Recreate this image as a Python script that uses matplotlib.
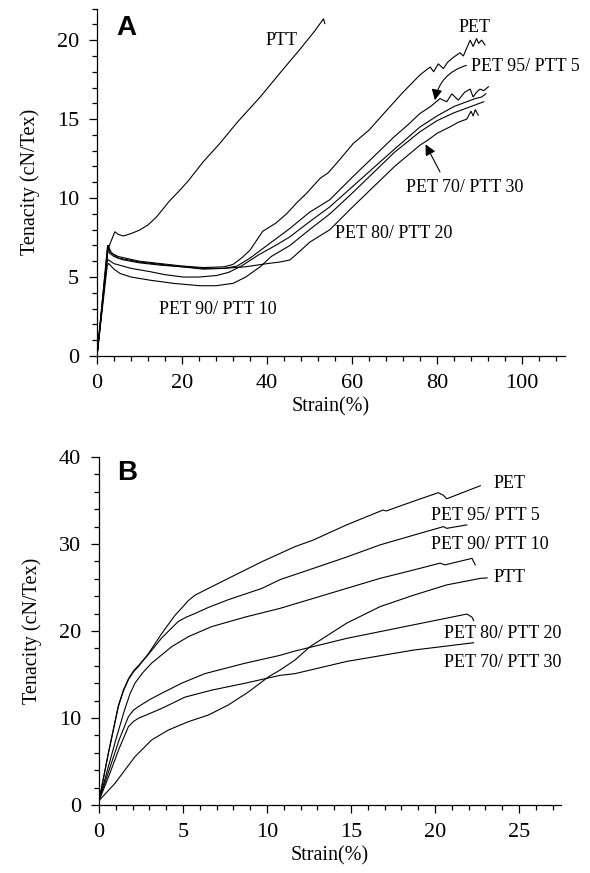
import numpy as np
import matplotlib
matplotlib.use('Agg')
import matplotlib.pyplot as plt
from matplotlib.ticker import MultipleLocator

plt.rcParams['font.family'] = ['Liberation Serif', 'DejaVu Serif']

# ---------------- Панель A: растяжение волокон (0-110 %) ---------------- #
a_ptt_x = [0, 2.6, 3.2, 3.8, 4.2, 5.0, 6.2, 8.0, 10.0, 12.0, 14.0, 17.0, 19.5, 21.5, 25.0,
           28.9, 33.0, 38.4, 43.0, 48.0, 51.0, 53.3, 53.6]
a_ptt_y = [0, 6.8, 7.2, 7.6, 7.87, 7.7, 7.6, 7.75, 7.97, 8.3, 8.8, 9.8, 10.5, 11.1, 12.3,
           13.46, 14.8, 16.4, 17.9, 19.5, 20.5, 21.35, 21.05]

a_pet_x = [0, 2.5, 3.0, 3.5, 5, 10, 15, 20, 25, 30, 32, 34, 36, 39, 42, 44.6, 47, 49.3,
           52.5, 54.4, 57, 60.3, 64, 68.2, 72, 76, 78.4, 79.2, 80.3, 81.5, 82.5, 83.8,
           85.4, 86.2, 87.0, 87.8, 88.5, 89.3, 89.8, 90.5, 91.3]
a_pet_y = [0, 7.0, 6.7, 6.5, 6.3, 6.0, 5.85, 5.7, 5.6, 5.65, 5.8, 6.2, 6.7, 7.9, 8.4, 9.0,
           9.7, 10.3, 11.25, 11.6, 12.4, 13.46, 14.3, 15.57, 16.7, 17.8, 18.3, 18.0, 18.5,
           18.2, 18.6, 18.9, 19.2, 19.0, 19.5, 20.0, 19.6, 20.1, 19.8, 20.0, 19.7]

a_95_x = [0, 2.7, 3.2, 4, 5, 10, 15, 20, 25, 30, 33, 36, 40, 45.4, 50, 54.8, 60, 65, 70,
          73, 76, 78.5, 80.7, 82.3, 83.5, 85, 86.5, 87.8, 88.5, 89.3, 90.1, 91, 92.1]
a_95_y = [0, 7.0, 6.6, 6.4, 6.2, 5.95, 5.8, 5.65, 5.5, 5.55, 5.7, 6.2, 7.0, 8.08, 9.1,
          9.9, 11.3, 12.6, 13.9, 14.6, 15.36, 15.8, 16.3, 16.1, 16.6, 16.2, 16.7, 16.9,
          16.4, 16.7, 16.9, 16.8, 17.05]

a_80_x = [0, 2.3, 2.6, 4, 6, 8, 12.5, 16, 20.3, 24, 28.2, 31, 34, 38, 42, 45.4, 50, 54.8,
          60, 65, 70, 76, 80, 84, 87, 89, 90.5, 91.5]
a_80_y = [0, 5.9, 6.1, 5.85, 5.7, 5.55, 5.34, 5.15, 5.0, 5.0, 5.1, 5.3, 5.7, 6.4, 7.0,
          7.55, 8.5, 9.45, 10.7, 11.9, 13.1, 14.5, 15.2, 15.8, 16.1, 16.3, 16.4, 16.6]

a_90_x = [0, 2.4, 2.7, 4, 5.4, 8, 12.5, 18, 24.2, 28, 32, 35, 38.4, 41, 45.4, 50, 54.8,
          60, 65, 70, 76, 80, 84, 87, 89, 91]
a_90_y = [0, 5.7, 5.87, 5.5, 5.23, 5.0, 4.8, 4.6, 4.45, 4.45, 4.6, 5.0, 5.65, 6.3, 7.0,
          8.0, 9.0, 10.3, 11.6, 12.9, 14.2, 14.9, 15.4, 15.7, 15.9, 16.1]

a_70_x = [0, 2.5, 3.0, 4, 6, 10, 15, 20, 25, 30, 35, 40, 43, 45.4, 48, 50, 54.8, 60, 65,
          70, 76, 78, 80, 83, 85, 87, 88, 88.5, 89, 89.7]
a_70_y = [0, 6.9, 6.5, 6.3, 6.1, 5.9, 5.75, 5.65, 5.55, 5.55, 5.65, 5.85, 5.95, 6.08, 6.7,
          7.2, 8.0, 9.4, 10.7, 12.0, 13.35, 13.7, 14.1, 14.5, 14.8, 15.0, 15.5, 15.2, 15.6,
          15.25]

# ---------------- Панель B: (0-27.5 %) ---------------- #
b_pet_x = [0, 0.56, 1.15, 1.45, 1.75, 2.05, 2.34, 2.94, 3.73, 4.52, 5.0, 5.32, 5.7, 6.1,
           7.7, 9.7, 11.67, 12.76, 14.74, 16.9, 17.1, 18.7, 20.2, 20.5, 20.7, 21.1, 22.7]
b_pet_y = [0.5, 5.94, 11.3, 13.1, 14.4, 15.3, 15.9, 17.4, 19.7, 21.8, 22.8, 23.5, 24.1,
           24.5, 26.05, 27.97, 29.7, 30.46, 32.2, 33.9, 33.8, 34.9, 35.9, 35.6, 35.2, 35.5,
           36.7]

b_95_x = [0, 0.56, 1.15, 1.45, 1.75, 2.05, 2.34, 2.94, 3.73, 4.72, 5.2, 5.7, 6.5, 7.7, 9.7,
          10.77, 12.76, 14.74, 16.73, 18.7, 20.5, 20.7, 21.9]
b_95_y = [0.5, 6.0, 11.4, 13.2, 14.5, 15.4, 16.0, 17.3, 19.2, 21.1, 21.6, 22.0, 22.7, 23.6,
          24.9, 25.9, 27.2, 28.5, 29.9, 31.0, 32.0, 31.8, 32.2]

b_90_x = [0, 0.5, 1.0, 1.5, 1.85, 2.14, 2.6, 3.13, 4.33, 5.32, 6.7, 8.7, 10.77, 12.76,
          14.74, 16.73, 18.7, 20.3, 20.6, 22.2, 22.4]
b_90_y = [0.5, 4.0, 7.5, 10.8, 12.8, 14.0, 15.2, 16.3, 18.2, 19.35, 20.5, 21.6, 22.6,
          23.75, 24.9, 26.05, 27.0, 27.8, 27.6, 28.35, 27.6]

b_ptt_x = [0, 0.95, 2.14, 3.13, 4.13, 5.32, 6.51, 7.7, 8.9, 10.1, 10.77, 11.67, 12.56,
           14.74, 16.73, 18.7, 20.7, 22.7, 23.1]
b_ptt_y = [0.5, 2.49, 5.55, 7.47, 8.62, 9.58, 10.34, 11.5, 13.0, 14.75, 15.5, 16.67, 18.2,
           20.9, 22.8, 24.1, 25.3, 26.05, 26.1]

b_80_x = [0, 0.6, 1.2, 1.75, 2.05, 2.34, 3.0, 3.73, 4.92, 6.3, 8.7, 10.77, 11.67, 14.74,
          18.7, 21.9, 22.2, 22.3]
b_80_y = [0.5, 4.0, 7.5, 10.15, 10.9, 11.3, 12.1, 12.84, 14.0, 15.1, 16.3, 17.2, 17.7,
          19.15, 20.7, 21.95, 21.6, 21.2]

b_70_x = [0, 0.6, 1.2, 1.75, 2.05, 2.34, 3.0, 3.73, 5.12, 6.7, 8.7, 10.77, 11.67, 14.74,
          18.7, 22.3]
b_70_y = [0.5, 3.4, 6.5, 9.0, 9.6, 9.96, 10.5, 11.1, 12.4, 13.2, 14.0, 14.9, 15.1, 16.5,
          17.8, 18.65]

# ------------------------------------------------------------- #

fig = plt.figure(figsize=(5.9, 8.73), dpi=100)
axA = fig.add_axes([0.1644, 0.5922, 0.7924, 0.398])
axB = fig.add_axes([0.1678, 0.0779, 0.783, 0.3986])

lw = 0.8
for x, y in [(a_ptt_x, a_ptt_y), (a_pet_x, a_pet_y), (a_95_x, a_95_y),
             (a_80_x, a_80_y), (a_90_x, a_90_y), (a_70_x, a_70_y)]:
    axA.plot(x, y, color='k', lw=lw)

for x, y in [(b_pet_x, b_pet_y), (b_95_x, b_95_y), (b_90_x, b_90_y),
             (b_ptt_x, b_ptt_y), (b_80_x, b_80_y), (b_70_x, b_70_y)]:
    axB.plot(x, y, color='k', lw=lw)

# оси
for ax in (axA, axB):
    ax.spines['top'].set_visible(False)
    ax.spines['right'].set_visible(False)
    ax.spines['left'].set_linewidth(0.9)
    ax.spines['bottom'].set_linewidth(0.9)
    ax.tick_params(which='major', direction='out', length=6, width=0.9, labelsize=16, pad=7)
    ax.tick_params(which='minor', direction='out', length=3.5, width=0.9)
    ax.set_xlabel('Strain(%)', fontsize=14.5, labelpad=3)
    ax.set_ylabel('Tenacity (cN/Tex)', fontsize=14.5, labelpad=12)

axA.set_xlim(0, 110)
axA.set_ylim(0, 22)
axA.xaxis.set_major_locator(MultipleLocator(20))
axA.xaxis.set_minor_locator(MultipleLocator(4))
axA.yaxis.set_major_locator(MultipleLocator(5))
axA.yaxis.set_minor_locator(MultipleLocator(1))

axB.set_xlim(0, 27.5)
axB.set_ylim(0, 40)
axB.xaxis.set_major_locator(MultipleLocator(5))
axB.xaxis.set_minor_locator(MultipleLocator(1))
axB.yaxis.set_major_locator(MultipleLocator(10))
axB.yaxis.set_minor_locator(MultipleLocator(2))

# подписи кривых
fs = 13
axA.text(43.3, 20.0, 'PTT', fontsize=fs, ha='center', va='center')
axA.text(88.9, 20.8, 'PET', fontsize=fs, ha='center', va='center')
axA.text(87.9, 18.3, 'PET 95/ PTT 5', fontsize=fs, ha='left', va='center')
axA.text(72.7, 10.66, 'PET 70/ PTT 30', fontsize=fs, ha='left', va='center')
axA.text(56.0, 7.75, 'PET 80/ PTT 20', fontsize=fs, ha='left', va='center')
axA.text(14.6, 2.97, 'PET 90/ PTT 10', fontsize=fs, ha='left', va='center')

axA.annotate('', xy=(79.5, 16.2), xytext=(86.9, 18.4),
             arrowprops=dict(arrowstyle='-|>', color='k', lw=0.8, mutation_scale=16,
                             connectionstyle='arc3,rad=0.3', shrinkA=0, shrinkB=0))
axA.annotate('', xy=(77.3, 13.4), xytext=(80.7, 11.66),
             arrowprops=dict(arrowstyle='-|>', color='k', lw=0.8, mutation_scale=16,
                             shrinkA=0, shrinkB=0))

axB.text(23.47, 36.9, 'PET', fontsize=fs, ha='left', va='center')
axB.text(19.76, 33.3, 'PET 95/ PTT 5', fontsize=fs, ha='left', va='center')
axB.text(19.76, 30.0, 'PET 90/ PTT 10', fontsize=fs, ha='left', va='center')
axB.text(23.47, 26.2, 'PTT', fontsize=fs, ha='left', va='center')
axB.text(20.54, 19.7, 'PET 80/ PTT 20', fontsize=fs, ha='left', va='center')
axB.text(20.54, 16.4, 'PET 70/ PTT 30', fontsize=fs, ha='left', va='center')

# буквы панелей
axA.text(6.8, 20.8, 'A', fontsize=20, fontweight='bold', ha='center', va='center',
         family=['Liberation Sans', 'DejaVu Sans'])
axB.text(1.65, 38.2, 'B', fontsize=20, fontweight='bold', ha='center', va='center',
         family=['Liberation Sans', 'DejaVu Sans'])

fig.savefig('out.png', dpi=100)
